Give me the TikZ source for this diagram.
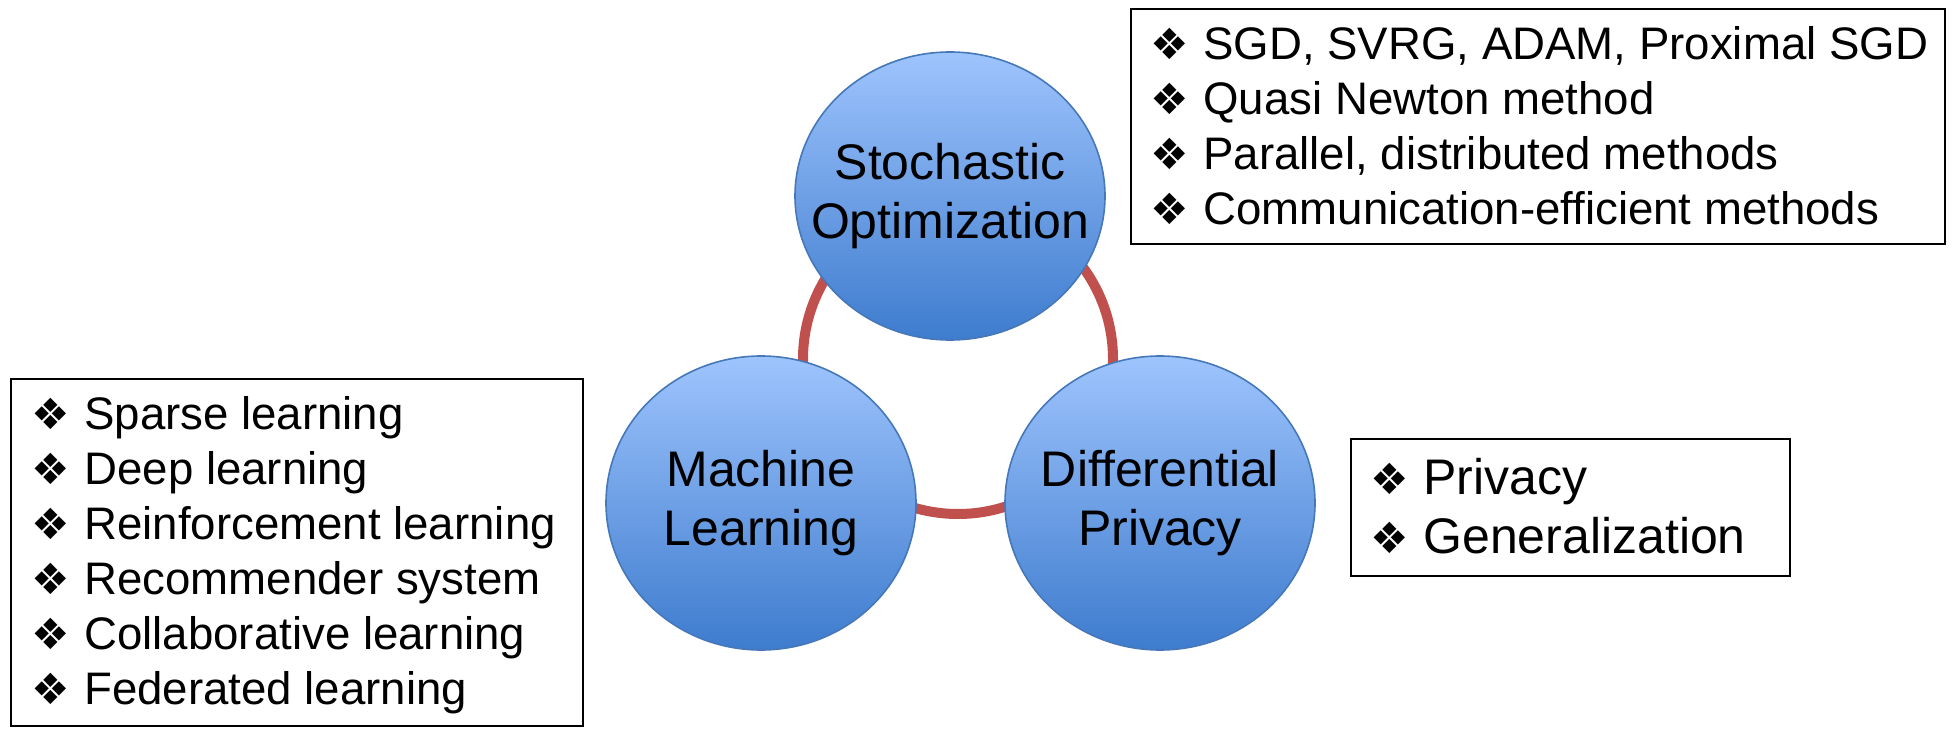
\documentclass[tikz,border=0pt]{standalone}
\usepackage{fontspec}
\setmainfont{Liberation Sans}
\newfontfamily\dejavu{DejaVu Sans}
\usetikzlibrary{shapes.geometric}
\definecolor{topblue}{RGB}{158,196,253}
\definecolor{botblue}{RGB}{62,124,206}
\definecolor{edgeblue}{RGB}{70,120,185}
\definecolor{ringred}{RGB}{192,80,77}
\newcommand{\bul}{\makebox[26.5pt][l]{{\dejavu\fontsize{21.5}{21.5}\selectfont ❖}}}
\begin{document}
\begin{tikzpicture}[x=0.5pt,y=-0.5pt,
 bubble/.style={ellipse, draw=edgeblue, line width=0.8pt, top color=topblue, bottom color=botblue,
   minimum width=155pt, minimum height=147pt, inner sep=0pt},
 bubbletext/.style={align=center, inner sep=0pt, font=\fontsize{25}{29.5}\selectfont},
 listbox/.style={draw=black, line width=1pt, rectangle, anchor=north west, inner sep=0pt},
 item/.style={anchor=west, inner sep=0pt, font=\fontsize{22.8}{27}\selectfont, text height=16.5pt, text depth=4.5pt},
 bigitem/.style={item, font=\fontsize{25}{29.5}\selectfont, text height=18pt, text depth=5pt}]
\useasboundingbox (0,0) rectangle (1956,744);
% ring behind
\node[circle, draw=ringred, line width=5pt, minimum size=155pt, inner sep=0pt] (ring) at (958,359) {};
% bubbles
\node[bubble, minimum height=144pt, label={[bubbletext]center:Stochastic\\Optimization}] (so) at (950,196) {};
\node[bubble, label={[bubbletext]center:Machine\\Learning}] (ml) at (761,503) {};
\node[bubble, label={[bubbletext]center:Differential\\Privacy}] (dp) at (1160,503) {};
% top-right box
\node[listbox, minimum width=407pt, minimum height=117.5pt] (trbox) at (1130,8) {};
\node[item] (tr1) at (1150,47) {\bul SGD, SVRG, ADAM, Proximal SGD};
\node[item] (tr2) at (1150,102) {\bul Quasi Newton method};
\node[item] (tr3) at (1150,157) {\bul Parallel, distributed methods};
\node[item] (tr4) at (1150,212) {\bul Communication-efficient methods};
% left box
\node[listbox, minimum width=286pt, minimum height=173.5pt] (lbox) at (10,378) {};
\node[item] (l1) at (31,417) {\bul Sparse learning};
\node[item] (l2) at (31,472) {\bul Deep learning};
\node[item] (l3) at (31,527) {\bul Reinforcement learning};
\node[item] (l4) at (31,582) {\bul Recommender system};
\node[item] (l5) at (31,637) {\bul Collaborative learning};
\node[item] (l6) at (31,692) {\bul Federated learning};
% right box
\node[listbox, minimum width=219.5pt, minimum height=68.5pt] (rbox) at (1350,438) {};
\node[bigitem] (r1) at (1370,481) {\bul Privacy};
\node[bigitem] (r2) at (1370,540) {\bul Generalization};
\end{tikzpicture}
\end{document}
